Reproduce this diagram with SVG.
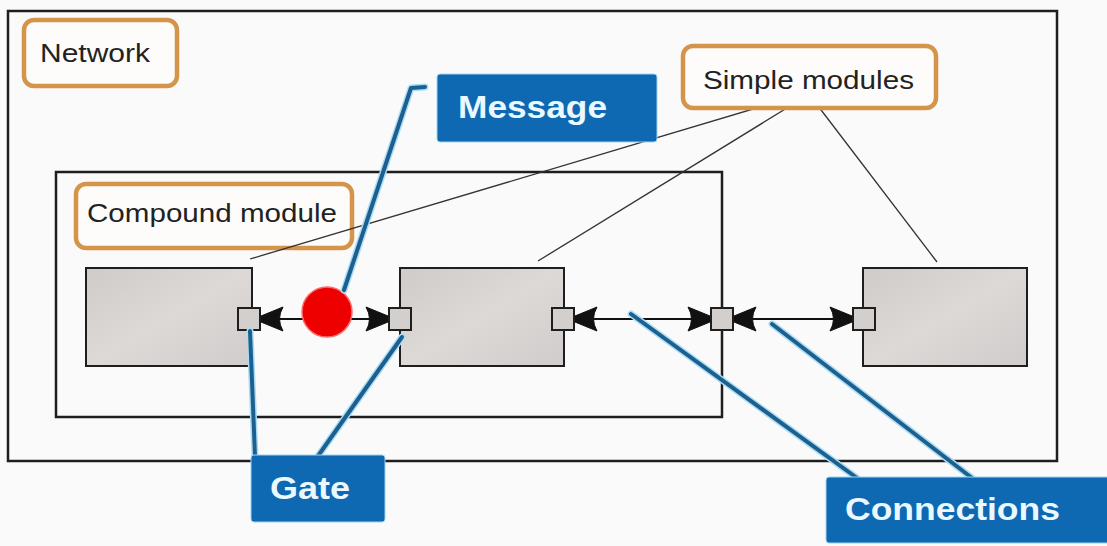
<svg xmlns="http://www.w3.org/2000/svg" width="1107" height="546" viewBox="0 0 1107 546">
  <defs>
    <linearGradient id="modFill" x1="0" y1="0" x2="1" y2="1">
      <stop offset="0" stop-color="#cfcbc9"/>
      <stop offset="0.5" stop-color="#dcd9d7"/>
      <stop offset="1" stop-color="#cfcccb"/>
    </linearGradient>
    <marker id="dart" viewBox="-26 -14 28 28" refX="0" refY="0" markerWidth="28" markerHeight="28" markerUnits="userSpaceOnUse" orient="auto-start-reverse">
      <path d="M0,-3 L-22,-12 Q-15,0 -22,12 L0,3 Z" fill="#111" stroke="#111" stroke-width="1" stroke-linejoin="round"/>
    </marker>
  </defs>
  <style>
    .frame { fill: none; stroke: #1e1e1e; stroke-width: 2.5; }
    .label { fill: #fdfcfa; stroke: #d4944a; stroke-width: 4.5; }
    .labelText { font-family: "Liberation Sans", Arial, sans-serif; font-size: 26px; fill: #222; }
    .module { fill: url(#modFill); stroke: #1e1e1e; stroke-width: 2; }
    .gate { fill: #d2cfcd; stroke: #1e1e1e; stroke-width: 2; }
    .conn { stroke: #111; stroke-width: 2; fill: none; marker-start: url(#dart); marker-end: url(#dart); }
    .pointer { stroke: #333; stroke-width: 1.3; fill: none; }
    .callout { fill: #0f69b2; stroke: #9fd4f0; stroke-width: 1; }
    .calloutText { font-family: "Liberation Sans", Arial, sans-serif; font-weight: bold; font-size: 31px; fill: #eaf8ff; }
    .leaderGlow { stroke: #a9ddf6; stroke-width: 7; fill: none; stroke-linecap: round; stroke-linejoin: round; }
    .leader { stroke: #1d5f8e; stroke-width: 4; fill: none; stroke-linecap: round; stroke-linejoin: round; }
  </style>

  <rect width="1107" height="546" fill="#fafafa"/>

  <!-- network frame -->
  <g id="network">
    <rect class="frame" x="8" y="11" width="1049" height="450"/>
    <rect class="label" x="24" y="20" width="153" height="66" rx="10"/>
    <text class="labelText" x="40" y="62" textLength="110" lengthAdjust="spacingAndGlyphs">Network</text>
  </g>

  <!-- compound module frame -->
  <g id="compound-module">
    <rect class="frame" x="56" y="172" width="666" height="245"/>
    <rect class="label" x="76" y="184" width="276" height="64" rx="10"/>
    <text class="labelText" x="87" y="222" textLength="250" lengthAdjust="spacingAndGlyphs">Compound module</text>
  </g>

  <!-- simple modules -->
  <g id="module-a"><rect class="module" x="86" y="268" width="166" height="98"/></g>
  <g id="module-b"><rect class="module" x="400" y="268" width="164" height="98"/></g>
  <g id="module-c"><rect class="module" x="863" y="268" width="164" height="98"/></g>

  <!-- pointers from the "Simple modules" label -->
  <g id="pointers">
    <line class="pointer" x1="790" y1="98" x2="250" y2="259"/>
    <line class="pointer" x1="800" y1="100" x2="538" y2="261"/>
    <line class="pointer" x1="815" y1="102" x2="937" y2="262"/>
  </g>

  <g id="simple-modules-label">
    <rect class="label" x="683" y="46" width="253" height="62" rx="10"/>
    <text class="labelText" x="703" y="89" textLength="211" lengthAdjust="spacingAndGlyphs">Simple modules</text>
  </g>

  <!-- connections between gates -->
  <g id="connectors">
    <line class="conn" x1="261" y1="319" x2="388" y2="319"/>
    <line class="conn" x1="575" y1="319" x2="710" y2="319"/>
    <line class="conn" x1="734" y1="319" x2="852" y2="319"/>
  </g>

  <!-- gates -->
  <g id="gate-a-out"><rect class="gate" x="238" y="308" width="22" height="22"/></g>
  <g id="gate-b-in"><rect class="gate" x="389" y="308" width="22" height="22"/></g>
  <g id="gate-b-out"><rect class="gate" x="552" y="308" width="22" height="22"/></g>
  <g id="gate-compound"><rect class="gate" x="711" y="308" width="22" height="22"/></g>
  <g id="gate-c-in"><rect class="gate" x="853" y="308" width="22" height="22"/></g>

  <!-- message in transit -->
  <g id="message">
    <circle cx="327" cy="312" r="25" fill="#ee0000" stroke="#ff6a6a" stroke-width="1.5"/>
  </g>

  <!-- callout leaders -->
  <g id="leaders">
    <path class="leaderGlow" d="M425,87 L411,88 L344,290"/>
    <path class="leader" d="M425,87 L411,88 L344,290"/>
    <path class="leaderGlow" d="M250,331 L255,456"/>
    <path class="leader" d="M250,331 L255,456"/>
    <path class="leaderGlow" d="M402,337 L318,456"/>
    <path class="leader" d="M402,337 L318,456"/>
    <path class="leaderGlow" d="M631,314 L857,478"/>
    <path class="leader" d="M631,314 L857,478"/>
    <path class="leaderGlow" d="M772,324 L972,478"/>
    <path class="leader" d="M772,324 L972,478"/>
  </g>

  <!-- callouts -->
  <g id="callout-message">
    <rect class="callout" x="437" y="74" width="220" height="68" rx="3"/>
    <text class="calloutText" x="458" y="118" textLength="149" lengthAdjust="spacingAndGlyphs">Message</text>
  </g>
  <g id="callout-gate">
    <rect class="callout" x="251" y="455" width="134" height="67" rx="3"/>
    <text class="calloutText" x="270" y="499" textLength="80" lengthAdjust="spacingAndGlyphs">Gate</text>
  </g>
  <g id="callout-connections">
    <rect class="callout" x="826" y="477" width="285" height="66" rx="3"/>
    <text class="calloutText" x="845" y="520" textLength="215" lengthAdjust="spacingAndGlyphs">Connections</text>
  </g>
</svg>
